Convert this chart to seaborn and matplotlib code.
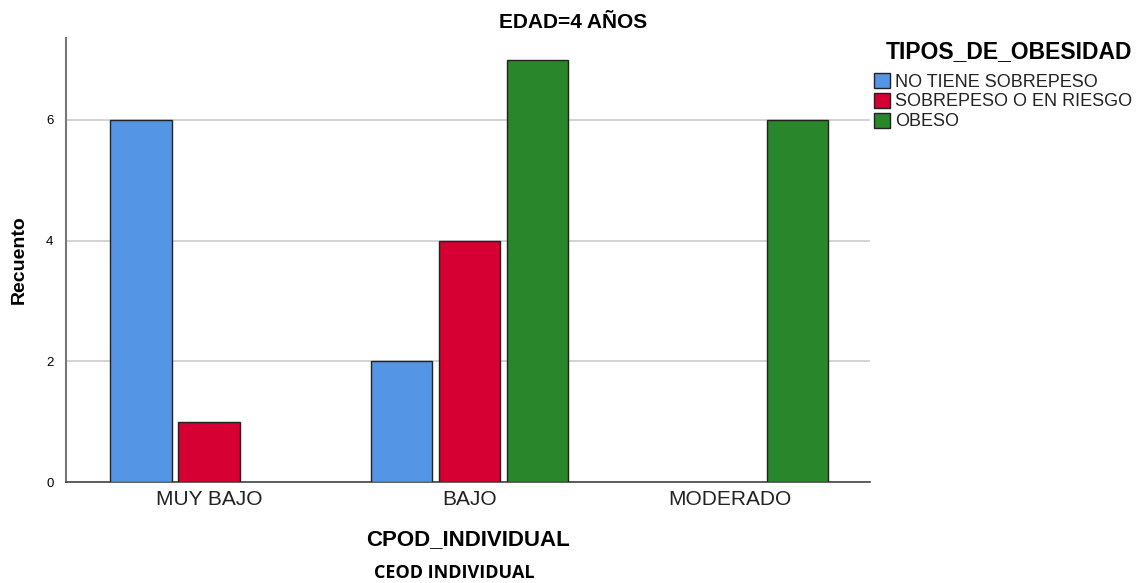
import pandas as pd
import numpy as np
import matplotlib
matplotlib.use("Agg")
import matplotlib.pyplot as plt
import seaborn as sns
from matplotlib.patches import Patch

# data
categorias = ["MUY BAJO", "BAJO", "MODERADO"]
tipos = ["NO TIENE SOBREPESO", "SOBREPESO O EN RIESGO", "OBESO"]
no_tiene = [6, 2, 0]
sobrepeso = [1, 4, 0]
obeso = [0, 7, 6]
colores = ["#5595E5", "#D60032", "#29862B"]

rows = []
for tipo, vals in zip(tipos, [no_tiene, sobrepeso, obeso]):
    for cat, v in zip(categorias, vals):
        if v > 0:  # empty combos are not drawn at all
            rows.append({"CPOD_INDIVIDUAL": cat, "TIPOS_DE_OBESIDAD": tipo, "Recuento": v})
df = pd.DataFrame(rows)

sns.set_style("white")
plt.rcParams["font.family"] = ["Liberation Sans", "DejaVu Sans"]
plt.rcParams["text.color"] = "black"

fig = plt.figure(figsize=(11.46, 5.83), dpi=100)
ax = fig.add_axes([0.0576, 0.1732, 0.7016, 0.762])

sns.barplot(data=df, x="CPOD_INDIVIDUAL", y="Recuento", hue="TIPOS_DE_OBESIDAD",
            order=categorias, hue_order=tipos, palette=colores,
            width=0.785, gap=0.1, edgecolor="#222222", linewidth=1.0,
            saturation=1, ax=ax, legend=False, zorder=3)

ax.set_xlim(-0.55, 2.54)
ax.set_ylim(0, 7.36)
ax.set_yticks([0, 2, 4, 6])
ax.yaxis.grid(True, color="#cccccc", linewidth=1.2, zorder=0)
ax.set_axisbelow(True)
for s in ["top", "right"]:
    ax.spines[s].set_visible(False)
ax.spines["left"].set_color("#777777")
ax.spines["left"].set_linewidth(1.5)
ax.spines["bottom"].set_color("#444444")
ax.spines["bottom"].set_linewidth(1.2)
ax.tick_params(axis="y", labelsize=9.5, length=0, pad=9, colors="black")
ax.tick_params(axis="x", labelsize=15, length=0, pad=6, colors="#222222")

ax.set_ylabel("Recuento", fontsize=14, fontweight="bold", color="black")
ax.yaxis.set_label_coords(-0.047, 0.5)
ax.set_xlabel("CPOD_INDIVIDUAL", fontsize=16, fontweight="bold", labelpad=14, color="black")

fig.text(0.5, 0.962, "EDAD=4 AÑOS", ha="center", va="center",
         fontsize=15, fontweight="bold")
fig.text(0.396, 0.017, "CEOD INDIVIDUAL", ha="center", va="center",
         fontsize=13, fontweight="bold", family=["Open Sans", "DejaVu Sans"])

# legend title drawn separately to get the gap under it
fig.text(0.7725, 0.911, "TIPOS_DE_OBESIDAD", ha="left", va="center",
         fontsize=16.5, fontweight="bold")
handles = [Patch(facecolor=c, edgecolor="#222222", linewidth=1.0, label=t)
           for c, t in zip(colores, tipos)]
leg = fig.legend(handles=handles, loc="upper left",
                 bbox_to_anchor=(0.7625, 0.875), frameon=False, fontsize=13,
                 handlelength=0.9, handleheight=0.9, borderpad=0,
                 handletextpad=0.3, labelspacing=0.12, borderaxespad=0)
for t in leg.get_texts():
    t.set_color("#222222")

fig.savefig("out.png", dpi=100)
